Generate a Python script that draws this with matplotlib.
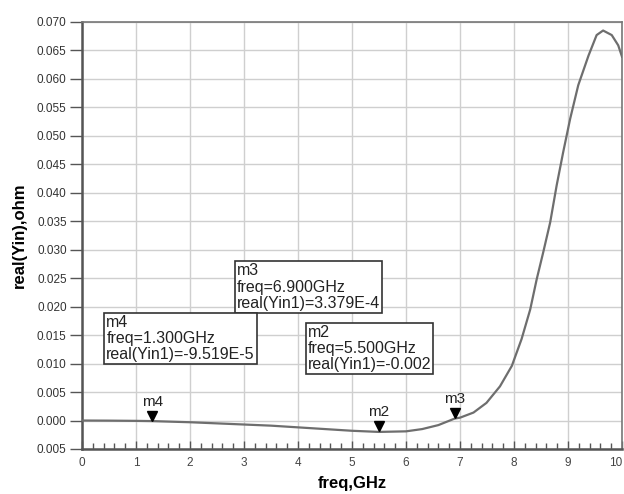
import matplotlib
matplotlib.use("Agg")
import matplotlib.pyplot as plt
import matplotlib.transforms as mtransforms
import numpy as np

plt.rcParams['font.family'] = ['Liberation Sans', 'DejaVu Sans']

# curve: freq (GHz) vs real(Yin)
freq = [0.0, 0.5, 1.0, 1.3, 2.0, 2.5, 3.0, 3.5, 4.0, 4.5, 5.0, 5.5, 6.0, 6.3, 6.6, 6.9,
        7.0, 7.25, 7.49, 7.74, 7.96, 8.14, 8.30, 8.42, 8.54, 8.67, 8.79, 8.91, 9.04,
        9.19, 9.38, 9.53, 9.65, 9.81, 9.93, 10.0]
yin = [0.0, -0.00002, -0.00006, -0.0001, -0.0003, -0.0005, -0.0007, -0.0009, -0.0012, -0.0015,
       -0.0018, -0.002, -0.0019, -0.0015, -0.0008, 0.00034,
       0.0005, 0.0014, 0.0031, 0.0060, 0.0096, 0.0143, 0.0195, 0.0248, 0.0295, 0.0348,
       0.0413, 0.0471, 0.0530, 0.0589, 0.0641, 0.0677, 0.0685, 0.0677, 0.0659, 0.0639]

# markers
mk_names = ['m4', 'm2', 'm3']
mk_freq = [1.3, 5.5, 6.9]
mk_val = [-9.519e-5, -0.002, 3.379e-4]

# readout boxes: (text, left freq, top value)
boxes = [
    ("m3\nfreq=6.900GHz\nreal(Yin1)=3.379E-4", 2.87, 0.0276),
    ("m4\nfreq=1.300GHz\nreal(Yin1)=-9.519E-5", 0.45, 0.0186),
    ("m2\nfreq=5.500GHz\nreal(Yin1)=-0.002", 4.18, 0.0168),
]

yticks = [-0.005, 0.0, 0.005, 0.010, 0.015, 0.020, 0.025, 0.030, 0.035,
          0.040, 0.045, 0.050, 0.055, 0.060, 0.065, 0.070]
ytick_labels = ['0.005'] + ['%.3f' % v for v in yticks[1:]]

fig = plt.figure(figsize=(6.24, 4.94), dpi=100)
ax = fig.add_axes([0.1314, 0.0911, 0.8654, 0.8644])

ax.plot(freq, yin, color='#6e6e6e', linewidth=1.6, zorder=3)

shift = mtransforms.offset_copy(ax.transData, fig=fig, x=0, y=4, units='points')
for name, f, v in zip(mk_names, mk_freq, mk_val):
    ax.plot(f, v, marker='v', color='black', markersize=7, transform=shift, zorder=4)
    ax.annotate(name, (f, v), xytext=(0, 9), textcoords='offset points',
                ha='center', va='bottom', fontsize=11, color='#222222')

for txt, x0, y0 in boxes:
    ax.text(x0, y0, txt, fontsize=11.5, va='top', ha='left', color='#222222',
            linespacing=1.1,
            bbox=dict(boxstyle='square,pad=0.12', facecolor='white',
                      edgecolor='#333333', linewidth=1.2), zorder=5)

ax.set_xlim(0, 10)
ax.set_ylim(-0.005, 0.070)
ax.set_xticks(range(0, 11))
ax.set_xticks(np.arange(0, 10.01, 0.2), minor=True)
ax.set_yticks(yticks)
ax.set_yticklabels(ytick_labels)
ax.grid(True, which='major', color='#cfcfcf', linewidth=1.0)
ax.set_axisbelow(True)

ax.tick_params(axis='y', direction='out', length=9, width=1, colors='#555555',
               labelsize=8.5, labelcolor='#333333', pad=2)
ax.tick_params(axis='x', which='major', direction='in', length=6, width=1,
               colors='#555555', labelsize=8.5, labelcolor='#444444', pad=6)
ax.tick_params(axis='x', which='minor', direction='in', length=4, width=1, colors='#555555')
# last label sits against the right edge
ax.get_xticklabels()[-1].set_horizontalalignment('right')

for side in ['left', 'bottom']:
    ax.spines[side].set_color('#555555')
    ax.spines[side].set_linewidth(1.8)
for side in ['top', 'right']:
    ax.spines[side].set_color('#777777')
    ax.spines[side].set_linewidth(1.2)

ax.set_xlabel('freq,GHz', fontsize=12, fontweight='bold', labelpad=5)
ax.set_ylabel('real(Yin),ohm', fontsize=12, fontweight='bold', labelpad=7)

fig.savefig('out.png', dpi=100)
